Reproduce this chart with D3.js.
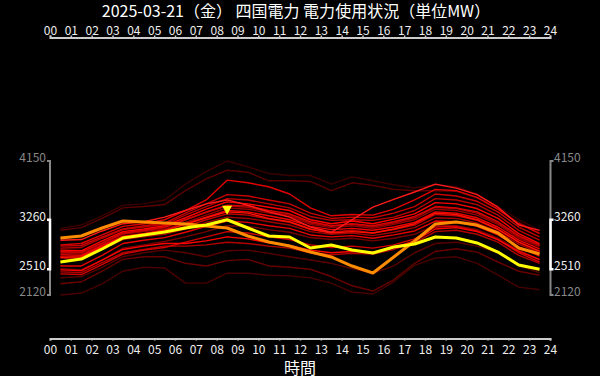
<!DOCTYPE html>
<html>
<head>
<meta charset="utf-8">
<script src="https://cdn.jsdelivr.net/npm/d3@7"></script>
<style>
body { margin: 0; background: #000; }
text { font-family: "Noto Sans CJK JP", "Noto Sans", sans-serif; }
</style>
</head>
<body>
<div id="chart"></div>
<script>
var title = "2025-03-21（金） 四国電力 電力使用状況（単位MW）";
var xTitle = "時間";

// hourly values plotted at the middle of each hour
var hours = [0.5, 1.5, 2.5, 3.5, 4.5, 5.5, 6.5, 7.5, 8.5, 9.5, 10.5, 11.5,
             12.5, 13.5, 14.5, 15.5, 16.5, 17.5, 18.5, 19.5, 20.5, 21.5, 22.5, 23.5];
var hourTicks = [0, 1, 2, 3, 4, 5, 6, 7, 8, 9, 10, 11, 12, 13, 14, 15, 16, 17, 18, 19, 20, 21, 22, 23, 24];

// today (yellow) and the previous day (orange)
var today = [2620, 2665, 2817, 2983, 3029, 3074, 3135, 3180, 3260, 3135, 3014, 2999,
             2832, 2877, 2802, 2756, 2847, 2893, 2999, 2983, 2908, 2771, 2574, 2510];
var yesterday = [2983, 3014, 3135, 3241, 3226, 3211, 3196, 3165, 3135, 3014, 2923, 2862,
                 2771, 2696, 2559, 2453, 2696, 2938, 3196, 3226, 3180, 3059, 2832, 2741];

// earlier days of the month (red)
var pastDays = [
  [3130, 3180, 3320, 3480, 3500, 3560, 3800, 3990, 4150, 4060, 3960, 3930, 3930, 3800, 3910, 3850, 3790, 3740, 3790, 3760, 3650, 3460, 3260, 3100],
  [3100, 3140, 3280, 3440, 3460, 3490, 3700, 3880, 4010, 3980, 3850, 3850, 3840, 3700, 3820, 3780, 3720, 3700, 3700, 3690, 3590, 3420, 3220, 3060],
  [2380, 2400, 2540, 2700, 2760, 2800, 2760, 2700, 2790, 2800, 2750, 2700, 2650, 2600, 2520, 2450, 2560, 2760, 2900, 2920, 2860, 2760, 2560, 2460],
  [2290, 2320, 2480, 2660, 2700, 2700, 2600, 2560, 2640, 2660, 2560, 2540, 2510, 2400, 2260, 2180, 2350, 2600, 2780, 2820, 2770, 2620, 2480, 2420],
  [2120, 2150, 2290, 2480, 2540, 2530, 2300, 2300, 2450, 2450, 2420, 2410, 2380, 2300, 2165, 2135, 2320, 2570, 2680, 2700, 2600, 2420, 2240, 2200],
  [2520, 2500, 2650, 2830, 2880, 2930, 3000, 3080, 3170, 3160, 3110, 3070, 2990, 2960, 2980, 2940, 2980, 3040, 3180, 3170, 3110, 2980, 2800, 2650],
  [2750, 2740, 2890, 3040, 3080, 3120, 3220, 3330, 3440, 3420, 3360, 3310, 3190, 3140, 3170, 3130, 3190, 3260, 3420, 3400, 3330, 3190, 2980, 2850],
  [2680, 2660, 2810, 2960, 3000, 3040, 3120, 3220, 3300, 3280, 3230, 3180, 3080, 3040, 3060, 3020, 3070, 3140, 3290, 3280, 3210, 3080, 2890, 2760],
  [2770, 2760, 2900, 3050, 3090, 3140, 3260, 3370, 3470, 3450, 3380, 3330, 3210, 3160, 3190, 3150, 3210, 3290, 3450, 3430, 3360, 3210, 3000, 2870],
  [2470, 2460, 2610, 2760, 2810, 2860, 2860, 2880, 2920, 2900, 2860, 2830, 2760, 2730, 2750, 2740, 2810, 2910, 3080, 3100, 3040, 2920, 2720, 2600],
  [2830, 2840, 2980, 3110, 3150, 3190, 3330, 3460, 3580, 3560, 3500, 3440, 3310, 3250, 3260, 3250, 3300, 3400, 3580, 3560, 3490, 3330, 3100, 2950],
  [2700, 2690, 2840, 2990, 3030, 3070, 3160, 3260, 3350, 3330, 3270, 3220, 3110, 3070, 3100, 3060, 3110, 3180, 3340, 3320, 3250, 3110, 2920, 2790],
  [2860, 2870, 3000, 3120, 3170, 3210, 3360, 3500, 3640, 3620, 3560, 3500, 3360, 3280, 3300, 3290, 3360, 3460, 3650, 3620, 3540, 3380, 3150, 3000],
  [2440, 2430, 2580, 2740, 2800, 2840, 2920, 3000, 3080, 3060, 3000, 2960, 2880, 2840, 2860, 2830, 2880, 2970, 3150, 3160, 3090, 2960, 2760, 2620],
  [2780, 2770, 2910, 3060, 3100, 3150, 3260, 3380, 3480, 3470, 3400, 3350, 3230, 3170, 3200, 3170, 3230, 3310, 3460, 3440, 3380, 3230, 3020, 2880],
  [2880, 2900, 3030, 3160, 3200, 3260, 3400, 3560, 3860, 3820, 3760, 3650, 3440, 3320, 3340, 3330, 3420, 3560, 3720, 3700, 3600, 3420, 3200, 3050],
  [2560, 2560, 2720, 2900, 2950, 2990, 3070, 3160, 3240, 3220, 3170, 3130, 3030, 3000, 3020, 2980, 3030, 3090, 3240, 3230, 3160, 3030, 2850, 2710],
  [2730, 2720, 2870, 3010, 3050, 3100, 3200, 3300, 3400, 3380, 3320, 3260, 3160, 3110, 3130, 3100, 3150, 3220, 3380, 3360, 3290, 3150, 2950, 2820],
  [2690, 2700, 2850, 3000, 3050, 3100, 3190, 3290, 3380, 3360, 3280, 3230, 3120, 3060, 3080, 3060, 3120, 3200, 3360, 3340, 3260, 3120, 2920, 2780],
  [2500, 2490, 2650, 2810, 2860, 2900, 2900, 2940, 3000, 2970, 2910, 2870, 2800, 2760, 2780, 2770, 2840, 2940, 3120, 3140, 3080, 2960, 2780, 2660],
  [2800, 2790, 2940, 3080, 3120, 3170, 3290, 3420, 3530, 3500, 3450, 3400, 3260, 3200, 3240, 3200, 3270, 3350, 3520, 3500, 3430, 3280, 3050, 2900],
  [2950, 2960, 3090, 3200, 3230, 3300, 3400, 3500, 3560, 3480, 3380, 3300, 3150, 3070, 3260, 3450, 3570, 3680, 3800, 3740, 3640, 3450, 3180, 3100]
];
// one shade per past day, same order
var pastShades = ["#3a0000", "#5a0000", "#580000", "#680000", "#480000", "#780000",
                  "#900000", "#a00000", "#a80000", "#b00000", "#b80000", "#c00000",
                  "#c80000", "#d00000", "#d80000", "#e00000", "#e80000", "#f00000",
                  "#ff1000", "#ff0000", "#ff0000", "#ff1a1a"];

var width = 600, height = 376;

var svg = d3.select("#chart")
    .append("svg")
        .attr("width", width)
        .attr("height", height)
        .style("background", "#000");

var allValues = d3.merge(pastDays).concat(today, yesterday);
var lo = d3.min(allValues), hi = d3.max(allValues);

var x = d3.scaleLinear().domain([0, 24]).range([50, 550]);
var y = d3.scaleLinear().domain([lo, hi]).range([295, 161]);

// title
svg.append("text")
    .attr("x", 296)
    .attr("y", 17)
    .attr("text-anchor", "middle")
    .attr("fill", "#fff")
    .style("font-size", "16px")
    .text(title);

//////// hour axes top and bottom ////////
var fmt = d3.format("02d");
var topAxis = svg.append("g")
    .attr("transform", "translate(0,37.5)")
    .call(d3.axisTop(x).tickValues(hourTicks).tickFormat(fmt).tickSize(2).tickPadding(1));
var bottomAxis = svg.append("g")
    .attr("transform", "translate(0,338.5)")
    .call(d3.axisBottom(x).tickValues(hourTicks).tickFormat(fmt).tickSize(2).tickPadding(5));

[topAxis, bottomAxis].forEach(function(g){
    g.select(".domain").attr("stroke", "#ccc").attr("stroke-width", 2);
    g.selectAll(".tick line").attr("stroke", "#ccc").attr("stroke-width", 1.5);
    g.selectAll(".tick text")
        .attr("fill", "#eee")
        .style("font-size", "12px")
        .style("font-family", "'Noto Sans CJK JP', sans-serif");
});

svg.append("text")
    .attr("x", 300)
    .attr("y", 374)
    .attr("text-anchor", "middle")
    .attr("fill", "#fff")
    .style("font-size", "16px")
    .text(xTitle);

//////// value brackets on both sides ////////
var tMax = d3.max(today), tMin = d3.min(today);

function bracket(xPos, dir, v1, v2, color, w){
    svg.append("path")
        .attr("d", "M" + (xPos + dir * 3) + "," + y(v1) + "H" + xPos + "V" + y(v2) + "H" + (xPos + dir * 3))
        .attr("fill", "none")
        .attr("stroke", color)
        .attr("stroke-width", w);
}
bracket(50, -1, hi, lo, "#888", 2);
bracket(50, -1, tMax, tMin, "#fff", 2.5);
bracket(550.5, 1, hi, lo, "#888", 2);
bracket(550.5, 1, tMax, tMin, "#fff", 2.5);

var yLabels = [
    {v: hi, c: "#888"},
    {v: tMax, c: "#eee"},
    {v: tMin, c: "#eee"},
    {v: lo, c: "#888"}
];
yLabels.forEach(function(d){
    svg.append("text")
        .attr("x", 46).attr("y", y(d.v) + 1)
        .attr("text-anchor", "end")
        .attr("fill", d.c)
        .style("font-size", "12px")
        .text(d.v);
    svg.append("text")
        .attr("x", 554).attr("y", y(d.v) + 1)
        .attr("text-anchor", "start")
        .attr("fill", d.c)
        .style("font-size", "12px")
        .text(d.v);
});

//////// lines ////////
var line = d3.line()
    .x(function(d, i){ return x(hours[i]); })
    .y(function(d){ return y(d); });

svg.append("g").selectAll("path")
    .data(pastDays)
    .enter().append("path")
        .attr("d", line)
        .attr("fill", "none")
        .attr("stroke", function(d, i){ return pastShades[i]; })
        .attr("stroke-width", 1.4)
        .attr("stroke-linejoin", "round");

svg.append("path")
    .attr("d", line(yesterday))
    .attr("fill", "none")
    .attr("stroke", "#ff8c00")
    .attr("stroke-width", 3)
    .attr("stroke-linejoin", "round");

svg.append("path")
    .attr("d", line(today))
    .attr("fill", "none")
    .attr("stroke", "#ffff00")
    .attr("stroke-width", 3)
    .attr("stroke-linejoin", "round");

// marker above today's peak
var peakIdx = today.indexOf(tMax);
var px = x(hours[peakIdx]), py = y(tMax) - 5;
svg.append("path")
    .attr("d", "M" + (px - 5) + "," + (py - 9) + "L" + (px + 5) + "," + (py - 9) + "L" + px + "," + py + "Z")
    .attr("fill", "#ffff00");
</script>
</body>
</html>
